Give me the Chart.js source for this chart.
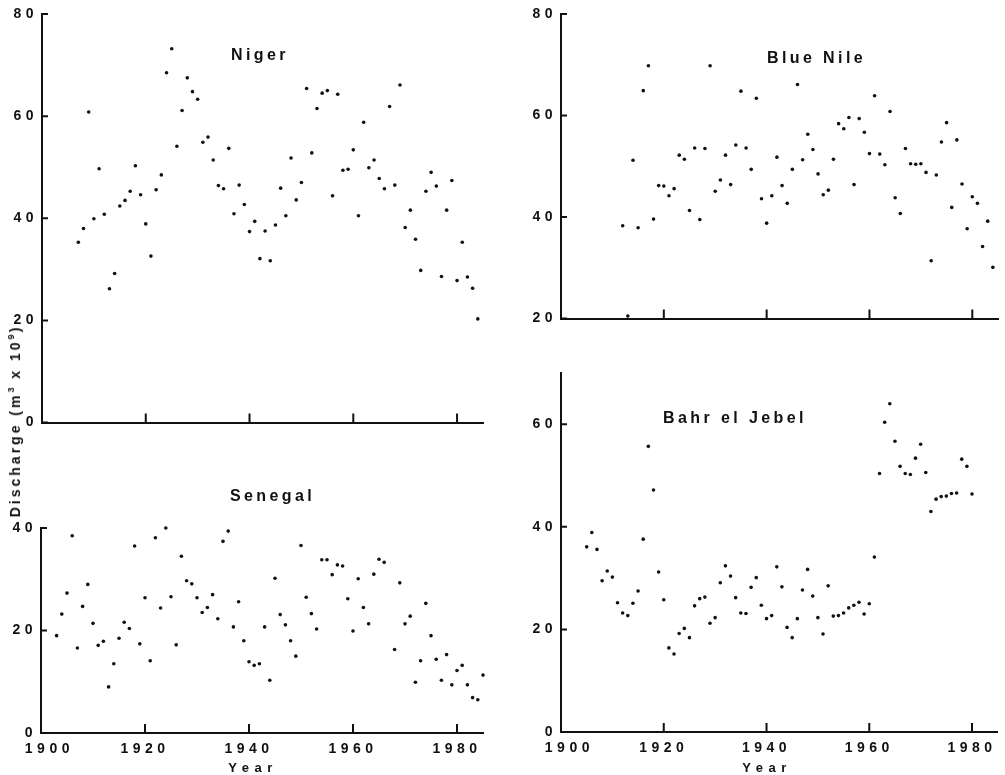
<!DOCTYPE html>
<html>
<head>
<meta charset="utf-8">
<script src="https://cdn.jsdelivr.net/npm/chart.js@4.4.1/dist/chart.umd.min.js"></script>
<style>
  body { margin: 0; background: #fff; width: 1005px; height: 775px; position: relative; overflow: hidden;
         font-family: "Liberation Sans", Arial, sans-serif; color: #111; }
  canvas { position: absolute; }
  .title { position: absolute; font-size: 16px; font-weight: bold; letter-spacing: 3.4px; line-height: 16px; white-space: nowrap; }
  .xlabel { position: absolute; width: 100px; text-align: center; font-size: 13px; font-weight: bold;
            letter-spacing: 5.5px; line-height: 13px; }
  #ylabel { position: absolute; left: 13px; top: 421px; transform: translate(-50%, -50%) rotate(-90deg);
            font-size: 14px; font-weight: bold; letter-spacing: 3px; white-space: nowrap; line-height: 14px; }
  #ylabel sup { font-size: 9px; vertical-align: 6px; letter-spacing: 2px; }
</style>
</head>
<body>
<canvas id="niger" width="490" height="435" style="left:0px;top:0px"></canvas>
<canvas id="bluenile" width="485" height="331" style="left:520px;top:0px"></canvas>
<canvas id="senegal" width="490" height="263" style="left:0px;top:500px"></canvas>
<canvas id="bahr" width="485" height="412" style="left:520px;top:350px"></canvas>

<div class="title" style="left:231px;top:47px">Niger</div>
<div class="title" style="left:767px;top:50px">Blue Nile</div>
<div class="title" style="left:230px;top:488px">Senegal</div>
<div class="title" style="left:663px;top:410px">Bahr el Jebel</div>
<div class="xlabel" style="left:203px;top:761px">Year</div>
<div class="xlabel" style="left:717px;top:761px">Year</div>
<div id="ylabel">Discharge (m<sup>3</sup> x 10<sup>9</sup>)</div>

<script>
// annual discharge (10^9 m3)
const xTicks = [1900, 1920, 1940, 1960, 1980];

const nigerYears = [
  1907, 1908, 1909, 1910, 1911, 1912, 1913, 1914, 1915, 1916,
  1917, 1918, 1919, 1920, 1921, 1922, 1923, 1924, 1925, 1926,
  1927, 1928, 1929, 1930, 1931, 1932, 1933, 1934, 1935, 1936,
  1937, 1938, 1939, 1940, 1941, 1942, 1943, 1944, 1945, 1946,
  1947, 1948, 1949, 1950, 1951, 1952, 1953, 1954, 1955, 1956,
  1957, 1958, 1959, 1960, 1961, 1962, 1963, 1964, 1965, 1966,
  1967, 1968, 1969, 1970, 1971, 1972, 1973, 1974, 1975, 1976,
  1977, 1978, 1979, 1980, 1981, 1982, 1983, 1984
];
const nigerValues = [
  35.3, 38.0, 60.8, 39.9, 49.7, 40.8, 26.2, 29.2, 42.4, 43.5,
  45.3, 50.3, 44.6, 38.9, 32.6, 45.6, 48.5, 68.5, 73.2, 54.1,
  61.1, 67.5, 64.8, 63.3, 54.9, 55.9, 51.4, 46.4, 45.8, 53.7,
  40.9, 46.5, 42.7, 37.4, 39.4, 32.1, 37.5, 31.7, 38.7, 45.9,
  40.5, 51.8, 43.6, 47.0, 65.4, 52.8, 61.5, 64.5, 65.0, 44.4,
  64.3, 49.4, 49.6, 53.4, 40.5, 58.8, 49.9, 51.4, 47.8, 45.8,
  61.9, 46.5, 66.1, 38.2, 41.6, 35.9, 29.8, 45.3, 49.0, 46.3,
  28.6, 41.6, 47.4, 27.8, 35.3, 28.5, 26.3, 20.3
];
const nigerYTicks = [0, 20, 40, 60, 80];

const blueNileYears = [
  1912, 1913, 1914, 1915, 1916, 1917, 1918, 1919, 1920, 1921,
  1922, 1923, 1924, 1925, 1926, 1927, 1928, 1929, 1930, 1931,
  1932, 1933, 1934, 1935, 1936, 1937, 1938, 1939, 1940, 1941,
  1942, 1943, 1944, 1945, 1946, 1947, 1948, 1949, 1950, 1951,
  1952, 1953, 1954, 1955, 1956, 1957, 1958, 1959, 1960, 1961,
  1962, 1963, 1964, 1965, 1966, 1967, 1968, 1969, 1970, 1971,
  1972, 1973, 1974, 1975, 1976, 1977, 1978, 1979, 1980, 1981,
  1982, 1983, 1984
];
const blueNileValues = [
  38.3, 20.5, 51.2, 37.9, 64.9, 69.8, 39.6, 46.2, 46.1, 44.2,
  45.6, 52.2, 51.4, 41.3, 53.6, 39.5, 53.5, 69.8, 45.1, 47.3,
  52.2, 46.4, 54.2, 64.8, 53.6, 49.4, 63.4, 43.6, 38.8, 44.2,
  51.8, 46.2, 42.7, 49.4, 66.1, 51.3, 56.3, 53.3, 48.5, 44.4,
  45.3, 51.4, 58.4, 57.4, 59.6, 46.4, 59.4, 56.7, 52.5, 63.9,
  52.4, 50.3, 60.8, 43.8, 40.7, 53.5, 50.5, 50.4, 50.5, 48.8,
  31.4, 48.3, 54.8, 58.6, 41.9, 55.2, 46.5, 37.7, 44.0, 42.7,
  34.2, 39.2, 30.1
];
const blueNileYTicks = [20, 40, 60, 80];

const senegalYears = [
  1903, 1904, 1905, 1906, 1907, 1908, 1909, 1910, 1911, 1912,
  1913, 1914, 1915, 1916, 1917, 1918, 1919, 1920, 1921, 1922,
  1923, 1924, 1925, 1926, 1927, 1928, 1929, 1930, 1931, 1932,
  1933, 1934, 1935, 1936, 1937, 1938, 1939, 1940, 1941, 1942,
  1943, 1944, 1945, 1946, 1947, 1948, 1949, 1950, 1951, 1952,
  1953, 1954, 1955, 1956, 1957, 1958, 1959, 1960, 1961, 1962,
  1963, 1964, 1965, 1966, 1967, 1968, 1969, 1970, 1971, 1972,
  1973, 1974, 1975, 1976, 1977, 1978, 1979, 1980, 1981, 1982,
  1983, 1984, 1985
];
const senegalValues = [
  19.0, 23.2, 27.3, 38.5, 16.6, 24.7, 29.0, 21.4, 17.1, 17.9,
  9.0, 13.5, 18.5, 21.6, 20.4, 36.5, 17.4, 26.4, 14.1, 38.1,
  24.4, 40.0, 26.6, 17.2, 34.5, 29.7, 29.1, 26.4, 23.5, 24.5,
  27.0, 22.3, 37.4, 39.4, 20.7, 25.6, 18.0, 13.9, 13.2, 13.5,
  20.7, 10.3, 30.2, 23.1, 21.1, 18.0, 15.0, 36.6, 26.5, 23.3,
  20.3, 33.8, 33.8, 30.9, 32.8, 32.6, 26.2, 19.9, 30.1, 24.5,
  21.3, 31.0, 33.9, 33.3, 41.5, 16.3, 29.3, 21.3, 22.8, 9.9,
  14.1, 25.3, 19.0, 14.4, 10.3, 15.3, 9.4, 12.2, 13.2, 9.4,
  6.9, 6.5, 11.3
];
const senegalYTicks = [0, 20, 40];

const bahrYears = [
  1905, 1906, 1907, 1908, 1909, 1910, 1911, 1912, 1913, 1914,
  1915, 1916, 1917, 1918, 1919, 1920, 1921, 1922, 1923, 1924,
  1925, 1926, 1927, 1928, 1929, 1930, 1931, 1932, 1933, 1934,
  1935, 1936, 1937, 1938, 1939, 1940, 1941, 1942, 1943, 1944,
  1945, 1946, 1947, 1948, 1949, 1950, 1951, 1952, 1953, 1954,
  1955, 1956, 1957, 1958, 1959, 1960, 1961, 1962, 1963, 1964,
  1965, 1966, 1967, 1968, 1969, 1970, 1971, 1972, 1973, 1974,
  1975, 1976, 1977, 1978, 1979, 1980
];
const bahrValues = [
  36.1, 38.9, 35.6, 29.5, 31.4, 30.2, 25.2, 23.2, 22.7, 25.1,
  27.5, 37.6, 55.7, 47.2, 31.2, 25.8, 16.4, 15.2, 19.2, 20.2,
  18.4, 24.6, 26.0, 26.3, 21.2, 22.3, 29.1, 32.4, 30.4, 26.2,
  23.2, 23.1, 28.2, 30.1, 24.7, 22.1, 22.7, 32.2, 28.3, 20.4,
  18.4, 22.1, 27.7, 31.7, 26.5, 22.3, 19.1, 28.5, 22.6, 22.7,
  23.2, 24.2, 24.7, 25.3, 23.0, 25.0, 34.1, 50.4, 60.4, 64.0,
  56.7, 51.8, 50.4, 50.2, 53.4, 56.1, 50.6, 43.0, 45.4, 45.9,
  46.0, 46.5, 46.6, 53.2, 51.8, 46.4
];
const bahrYTicks = [0, 20, 40, 60];

const tickFont = { family: '"Liberation Sans", Arial, sans-serif', size: 14, weight: 'bold' };
Chart.defaults.color = '#111';

// wide letter spacing like the typeset figure
const spacedText = {
    id: 'spacedText',
    beforeUpdate(chart) { chart.ctx.letterSpacing = '4.5px'; },
    beforeDraw(chart) { chart.ctx.letterSpacing = '4.5px'; }
};

// tick marks point into the plot, not out of it
const innerTicks = {
    id: 'innerTicks',
    afterDraw(chart) {
        const { ctx, chartArea, scales } = chart;
        ctx.save();
        ctx.strokeStyle = '#111';
        ctx.lineWidth = 2;
        ctx.beginPath();
        scales.x.ticks.forEach(t => {
            const px = scales.x.getPixelForValue(t.value);
            ctx.moveTo(px, chartArea.bottom);
            ctx.lineTo(px, chartArea.bottom - 9);
        });
        scales.y.ticks.forEach(t => {
            const py = scales.y.getPixelForValue(t.value);
            ctx.moveTo(chartArea.left, py);
            ctx.lineTo(chartArea.left + 6, py);
        });
        ctx.stroke();
        ctx.restore();
    }
};

function makePanel(id, years, values, yTicks, cfg) {
    const points = years.map((yr, i) => ({ x: yr, y: values[i] }));
    return new Chart(document.getElementById(id), {
        type: 'scatter',
        data: {
            datasets: [{
                data: points,
                pointRadius: 1.8,
                pointHoverRadius: 1.8,
                backgroundColor: '#111',
                borderWidth: 0,
                clip: false
            }]
        },
        options: {
            responsive: false,
            animation: false,
            events: [],
            layout: { padding: { top: cfg.padTop, right: 7, bottom: 0, left: 0 } },
            plugins: {
                legend: { display: false },
                tooltip: { enabled: false }
            },
            scales: {
                x: {
                    type: 'linear',
                    min: 1900,
                    max: 1985,
                    grid: { display: false, drawTicks: false },
                    border: { display: true, color: '#111', width: 2 },
                    afterBuildTicks: s => { s.ticks = xTicks.map(v => ({ value: v })); },
                    afterFit: s => { s.height = cfg.xHeight; },
                    ticks: {
                        display: cfg.showX,
                        font: tickFont,
                        padding: 8,
                        maxRotation: 0,
                        autoSkip: false,
                        callback: v => v === 1900 ? '  1900' : String(v)
                    }
                },
                y: {
                    type: 'linear',
                    min: yTicks[0],
                    max: cfg.yMax,
                    grid: { display: false, drawTicks: false },
                    border: { display: true, color: '#111', width: 2 },
                    afterBuildTicks: s => { s.ticks = yTicks.map(v => ({ value: v })); },
                    afterFit: s => { s.width = cfg.yWidth; },
                    ticks: { font: tickFont, padding: 4 }
                }
            }
        },
        plugins: [spacedText, innerTicks]
    });
}

makePanel('niger', nigerYears, nigerValues, nigerYTicks,
    { padTop: 14, xHeight: 10, yWidth: 42, yMax: 80, showX: false });
makePanel('bluenile', blueNileYears, blueNileValues, blueNileYTicks,
    { padTop: 14, xHeight: 10, yWidth: 41, yMax: 80, showX: false });
makePanel('senegal', senegalYears, senegalValues, senegalYTicks,
    { padTop: 28, xHeight: 30, yWidth: 41, yMax: 40, showX: true });
makePanel('bahr', bahrYears, bahrValues, bahrYTicks,
    { padTop: 23, xHeight: 30, yWidth: 41, yMax: 70, showX: true });
</script>
</body>
</html>
